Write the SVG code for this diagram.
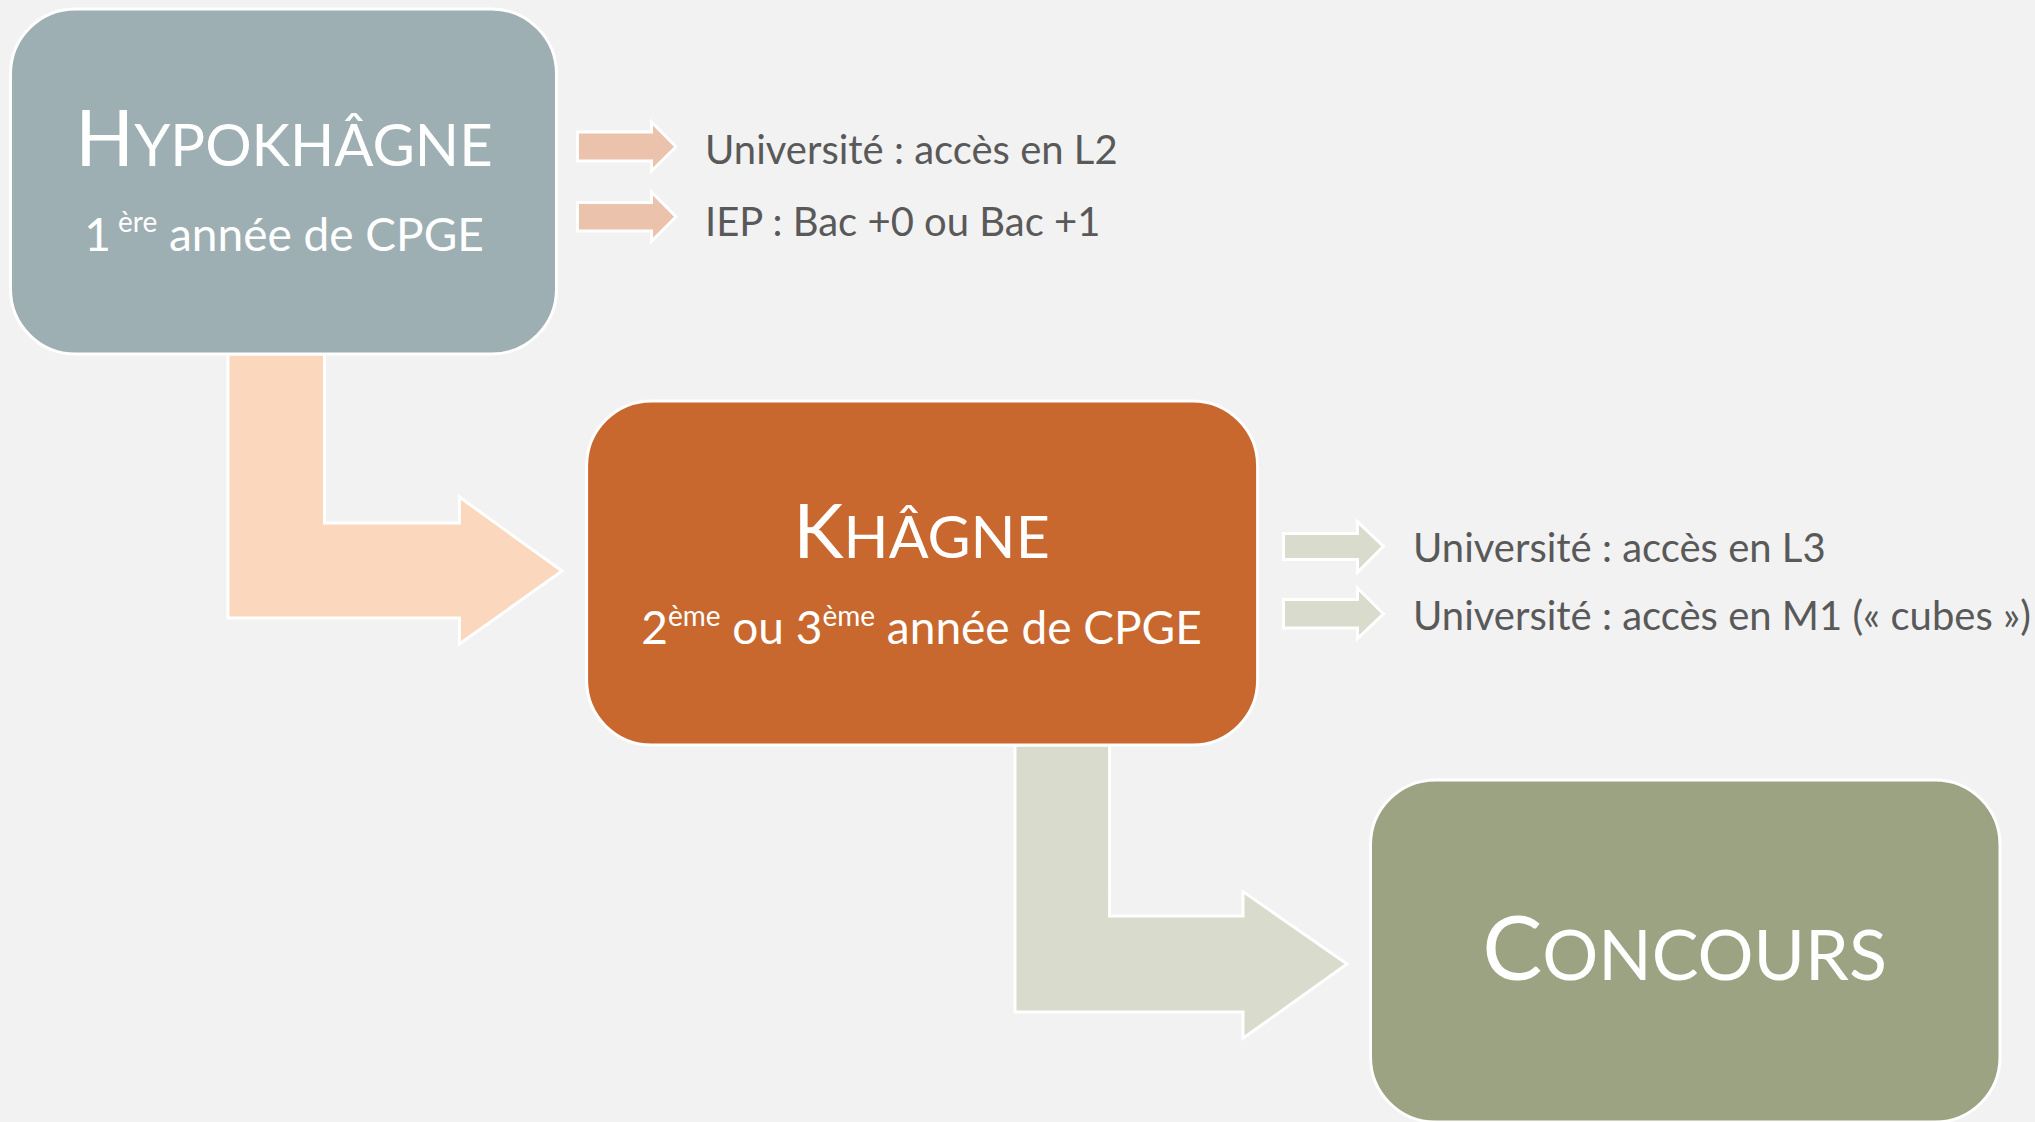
<svg xmlns="http://www.w3.org/2000/svg" width="2035" height="1122" viewBox="0 0 2035 1122">
<style>
.node rect{stroke:#ffffff;stroke-width:3}
.big{stroke:#ffffff;stroke-width:3}
.small{stroke:#ffffff;stroke-width:3}
.wt{font-family:Lato,"Liberation Sans",sans-serif;fill:#ffffff;text-anchor:middle}
.gt{font-family:Lato,"Liberation Sans",sans-serif;fill:#595959;font-size:40px}
</style>
<rect x="0" y="0" width="2035" height="1122" fill="#f2f2f2"/>
<g id="connectors">
<polygon class="big" fill="#fbd7bd" points="228,354 324.5,354 324.5,523 459.4,523 459.4,497 562,571 459.4,644 459.4,618 228,618"/>
<polygon class="big" fill="#d9dbcd" points="1015,745 1109.6,745 1109.6,916 1243,916 1243,891.6 1347,964 1243,1038.3 1243,1012 1015,1012"/>
<polygon class="small" fill="#ebc2ab" points="577.5,132 651.5,132 651.5,122 676,146.7 651.5,171 651.5,161 577.5,161"/>
<polygon class="small" fill="#ebc2ab" points="577.5,202.5 651.5,202.5 651.5,192 676,216.7 651.5,241.4 651.5,231 577.5,231"/>
<polygon class="small" fill="#d9dbcd" points="1283.5,533.4 1357.5,533.4 1357.5,521.7 1383.5,546.4 1357.5,572.3 1357.5,559.4 1283.5,559.4"/>
<polygon class="small" fill="#d9dbcd" points="1283.5,599.6 1357.5,599.6 1357.5,588 1383.5,613.9 1357.5,638.5 1357.5,628 1283.5,628"/>
</g>
<g id="hypokhagne" class="node">
<rect x="10.5" y="9" width="546" height="345" rx="65" fill="#9eafb4"/>
<text class="wt" x="284" y="166"><tspan font-size="77">H</tspan><tspan font-size="58">YPOKHÂGNE</tspan></text>
<text class="wt" x="284" y="250.5" font-size="46">1<tspan font-size="28" dy="-19"> ère</tspan><tspan dy="19"> année de CPGE</tspan></text>
</g>
<g id="labels-hypokhagne">
<text class="gt" x="705" y="163.5">Université : accès en L2</text>
<text class="gt" x="705" y="236">IEP : Bac +0 ou Bac +1</text>
</g>
<g id="khagne" class="node">
<rect x="586.6" y="401" width="671" height="344" rx="65" fill="#c8682f"/>
<text class="wt" x="921.5" y="558"><tspan font-size="76">K</tspan><tspan font-size="59">HÂGNE</tspan></text>
<text class="wt" x="921.5" y="643.7" font-size="46">2<tspan font-size="28" dy="-18">ème</tspan><tspan dy="18"> ou 3</tspan><tspan font-size="28" dy="-18">ème</tspan><tspan dy="18"> année de CPGE</tspan></text>
</g>
<g id="labels-khagne">
<text class="gt" x="1413" y="562">Université : accès en L3</text>
<text class="gt" x="1413" y="629.5">Université : accès en M1 (« cubes »)</text>
</g>
<g id="concours" class="node">
<rect x="1370.5" y="780" width="629.5" height="342" rx="65" fill="#9ca383"/>
<text class="wt" x="1684.5" y="980"><tspan font-size="90">C</tspan><tspan font-size="70">ONCOURS</tspan></text>
</g>
</svg>
